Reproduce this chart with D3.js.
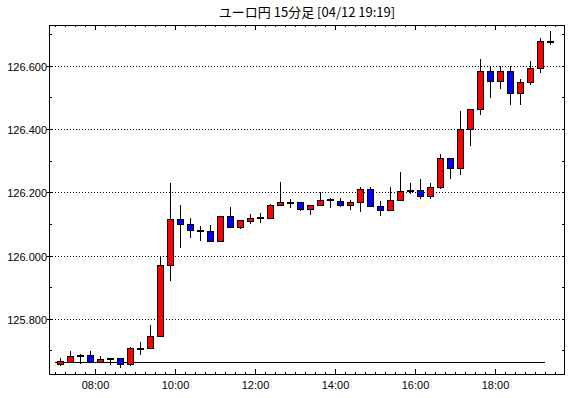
<!DOCTYPE html>
<html>
<head>
<meta charset="utf-8">
<script src="https://cdn.jsdelivr.net/npm/d3@7"></script>
<style>
  body { margin: 0; background: #fff; }
  svg { display: block; }
</style>
</head>
<body>
<div id="chart"></div>
<script>
// 15 minute candles, EUR/JPY, 04/12 07:00 - 19:15
const opens  = [125.658,125.664,125.682,125.686,125.665,125.672,125.677,125.658,125.708,125.708,
                125.746,125.971,126.116,126.100,126.081,126.078,126.047,126.125,126.090,126.110,
                126.118,126.118,126.160,126.170,126.170,126.147,126.160,126.175,126.173,126.160,
                126.170,126.211,126.157,126.144,126.176,126.204,126.207,126.189,126.217,126.309,
                126.277,126.400,126.463,126.583,126.552,126.583,126.514,126.549,126.593,126.678];
const highs  = [125.677,125.697,125.690,125.697,125.683,125.677,125.677,125.712,125.727,125.779,
                125.998,126.230,126.161,126.119,126.094,126.097,126.124,126.154,126.112,126.132,
                126.135,126.163,126.233,126.179,126.170,126.160,126.201,126.182,126.182,126.176,
                126.217,126.217,126.173,126.217,126.264,126.230,126.242,126.230,126.321,126.309,
                126.458,126.463,126.621,126.599,126.599,126.599,126.558,126.615,126.688,126.710];
const lows   = [125.652,125.662,125.658,125.665,125.665,125.653,125.645,125.652,125.687,125.707,
                125.746,125.919,126.023,126.055,126.046,126.047,126.043,126.091,126.084,126.098,
                126.103,126.116,126.156,126.149,126.140,126.129,126.160,126.151,126.154,126.144,
                126.138,126.154,126.125,126.144,126.176,126.195,126.179,126.179,126.211,126.242,
                126.253,126.345,126.444,126.498,126.525,126.476,126.476,126.539,126.577,126.665];
const closes = [125.667,125.684,125.686,125.665,125.674,125.677,125.658,125.708,125.709,125.747,
                125.971,126.116,126.100,126.081,126.078,126.047,126.124,126.091,126.112,126.120,
                126.121,126.160,126.170,126.170,126.147,126.160,126.176,126.177,126.160,126.170,
                126.211,126.157,126.144,126.176,126.204,126.207,126.189,126.217,126.309,126.277,
                126.400,126.463,126.583,126.552,126.583,126.514,126.549,126.593,126.678,126.679];
const firstCandle = "07:00";
const refPrice = 125.664;
const yTicks = [125.8, 126.0, 126.2, 126.4, 126.6];
const xTickHours = [8, 10, 12, 14, 16, 18];
const title = "ユーロ円 15分足 [04/12 19:19]";

const pars = {
  width: 570, height: 398,
  left: 49, right: 565, top: 25, bottom: 374,
  upColor: "#ff0000", downColor: "#0000ff",
  bodyWidth: 6,
  font: "'Liberation Sans', Arial, sans-serif"
};

const parseTime = d3.timeParse("%Y-%m-%d %H:%M");
const day = "2024-04-12 ";
const t0 = parseTime(day + firstCandle);

const candles = opens.map((o, i) => ({
  time: d3.timeMinute.offset(t0, i * 15),
  open: o, high: highs[i], low: lows[i], close: closes[i]
}));

const svg = d3.select("#chart").append("svg")
  .attr("width", pars.width)
  .attr("height", pars.height);

const x = d3.scaleTime()
  .domain([parseTime(day + "06:51"), parseTime(day + "19:45")])
  .range([pars.left, pars.right]);

const y = d3.scaleLinear()
  .domain([125.6257, 126.7281])
  .range([pars.bottom, pars.top]);

// title
svg.append("text")
  .attr("x", (pars.left + pars.right) / 2)
  .attr("y", 17)
  .attr("text-anchor", "middle")
  .style("font-family", "'Noto Sans CJK JP', sans-serif")
  .style("font-size", "13px")
  .text(title);

// dotted grid + y labels
yTicks.forEach(v => {
  const yy = Math.round(y(v)) + 0.5;
  svg.append("line")
    .attr("x1", pars.left).attr("x2", pars.right)
    .attr("y1", yy).attr("y2", yy)
    .attr("stroke", "#000")
    .attr("stroke-dasharray", "1,2");
  svg.append("line")
    .attr("x1", pars.left - 2).attr("x2", pars.left)
    .attr("y1", yy).attr("y2", yy)
    .attr("stroke", "#000");
  svg.append("text")
    .attr("x", pars.left - 2)
    .attr("y", yy + 4)
    .attr("text-anchor", "end")
    .style("font-family", pars.font)
    .style("font-size", "11px")
    .text(d3.format(".3f")(v));
});

// minor y ticks every 0.1, inside both sides
d3.range(125.7, 126.75, 0.1).forEach(v => {
  const yy = Math.round(y(v)) + 0.5;
  svg.append("line")
    .attr("x1", pars.left).attr("x2", pars.left + 3)
    .attr("y1", yy).attr("y2", yy)
    .attr("stroke", "#000");
  svg.append("line")
    .attr("x1", pars.right - 3).attr("x2", pars.right)
    .attr("y1", yy).attr("y2", yy)
    .attr("stroke", "#000");
});

// x ticks every 15 minutes, longer every 2 hours
const minorTimes = d3.timeMinute.every(15).range(t0, parseTime(day + "19:45"));
minorTimes.forEach(t => {
  const xx = Math.round(x(t)) + 0.5;
  const major = t.getMinutes() === 0 && xTickHours.includes(t.getHours());
  const len = major ? 5 : 2;
  svg.append("line")
    .attr("x1", xx).attr("x2", xx)
    .attr("y1", pars.bottom - len).attr("y2", pars.bottom)
    .attr("stroke", "#000");
  svg.append("line")
    .attr("x1", xx).attr("x2", xx)
    .attr("y1", pars.top).attr("y2", pars.top + len)
    .attr("stroke", "#000");
});

xTickHours.forEach(h => {
  const t = d3.timeHour.offset(parseTime(day + "00:00"), h);
  svg.append("text")
    .attr("x", Math.round(x(t)) + 0.5)
    .attr("y", 389)
    .attr("text-anchor", "middle")
    .style("font-family", pars.font)
    .style("font-size", "11px")
    .text(d3.timeFormat("%H:%M")(t));
});

// reference line
const ry = Math.round(y(refPrice)) + 0.5;
svg.append("line")
  .attr("x1", x(t0))
  .attr("x2", x(candles[candles.length - 1].time))
  .attr("y1", ry).attr("y2", ry)
  .attr("stroke", "#000");

// candles
const center = d => Math.round(x(d3.timeMinute.offset(d.time, 7.5)));
const bodyTop = d => Math.round(y(Math.max(d.open, d.close)));
const bodyHeight = d => Math.max(1, Math.round(y(Math.min(d.open, d.close))) - bodyTop(d));

svg.selectAll(".wick")
  .data(candles)
  .enter().append("line")
  .attr("class", "wick")
  .attr("x1", d => center(d) + 0.5)
  .attr("x2", d => center(d) + 0.5)
  .attr("y1", d => Math.round(y(d.high)))
  .attr("y2", d => Math.round(y(d.low)))
  .attr("stroke", "#000");

svg.selectAll(".body")
  .data(candles)
  .enter().append("rect")
  .attr("class", "body")
  .attr("x", d => center(d) - pars.bodyWidth / 2 + 0.5)
  .attr("y", d => bodyTop(d) + 0.5)
  .attr("width", pars.bodyWidth)
  .attr("height", bodyHeight)
  .attr("fill", d => d.close >= d.open ? pars.upColor : pars.downColor)
  .attr("stroke", "#000");

// frame
svg.append("rect")
  .attr("x", pars.left + 0.5)
  .attr("y", pars.top + 0.5)
  .attr("width", pars.right - pars.left - 1)
  .attr("height", pars.bottom - pars.top)
  .attr("fill", "none")
  .attr("stroke", "#000");
</script>
</body>
</html>
